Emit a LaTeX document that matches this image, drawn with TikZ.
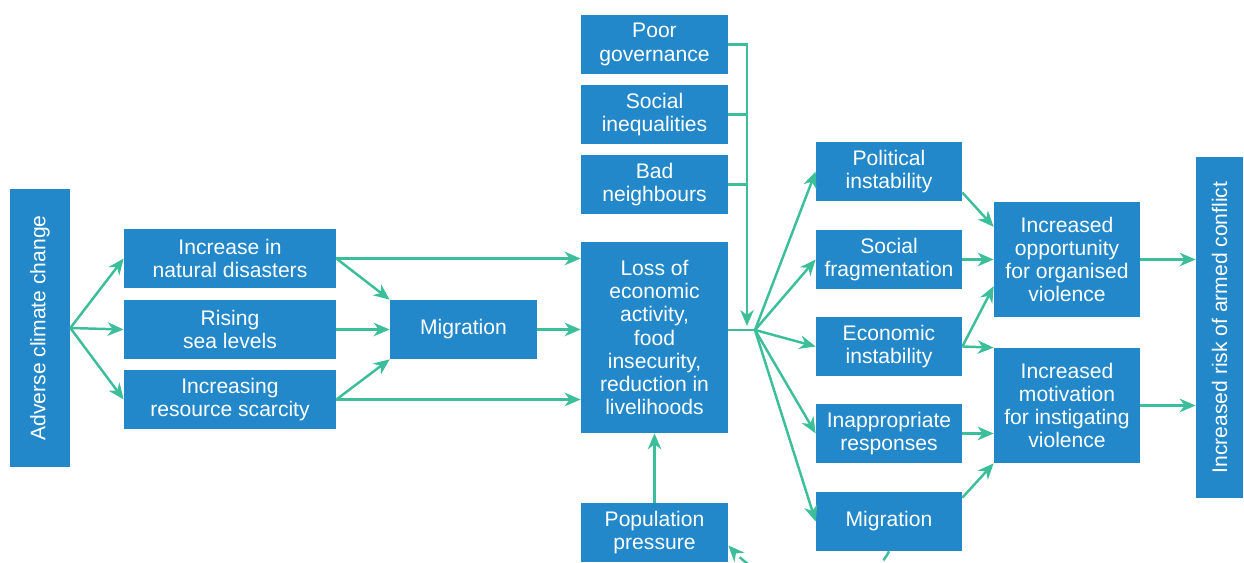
\documentclass[tikz,border=0pt]{standalone}
\usepackage{fontspec}
\setmainfont{Liberation Sans}
\usepackage{graphicx}
\usetikzlibrary{arrows.meta}
\definecolor{boxblue}{RGB}{35,136,202}
\definecolor{linkgreen}{RGB}{60,190,155}

\begin{document}
\begin{tikzpicture}[
  x=0.02cm,y=-0.02cm,
  box/.style={fill=boxblue, text=white, align=center, inner sep=0pt, font=\fontsize{12}{13.2}\selectfont, minimum width=2.94cm, minimum height=1.18cm},
  arrow/.style={-{Stealth[length=0.32cm,width=0.27cm,inset=0.1cm]}, line width=1.4pt, linkgreen},
  link/.style={line width=1.4pt, linkgreen}
]
\useasboundingbox (0,0) rectangle (1244,563);

% climate side
\node[box, minimum width=1.2cm, minimum height=5.56cm] (climate) at (40,328) {\rotatebox{90}{Adverse climate change}};
\node[box, minimum width=4.24cm] (disaster) at (230,258.5) {Increase in\\natural disasters};
\node[box, minimum width=4.24cm] (sea) at (230,329.5) {Rising\\sea levels};
\node[box, minimum width=4.24cm] (scarce) at (230,399.5) {Increasing\\resource scarcity};
\node[box] (migA) at (463.5,329.5) {Migration};

% middle column
\node[box] (gov) at (654.5,44.5) {Poor\\governance};
\node[box] (ineq) at (654.5,114.5) {Social\\inequalities};
\node[box] (neigh) at (654.5,184.5) {Bad\\neighbours};
\node[box, minimum height=3.82cm] (loss) at (654.5,337.5) {Loss of\\economic\\activity,\\food\\insecurity,\\reduction in\\livelihoods};
\node[box] (pop) at (654.5,532.5) {Population\\pressure};

% effects
\node[box, minimum width=2.92cm] (polit) at (889,171.5) {Political\\instability};
\node[box, minimum width=2.92cm] (frag) at (889,259.5) {Social\\fragmentation};
\node[box, minimum width=2.92cm] (econ) at (889,346.5) {Economic\\instability};
\node[box, minimum width=2.92cm] (resp) at (889,433.5) {Inappropriate\\responses};
\node[box, minimum width=2.92cm] (migB) at (889,521.5) {Migration};
\node[box, minimum width=2.92cm, minimum height=2.3cm] (opp) at (1067,259.5) {Increased\\opportunity\\for organised\\violence};
\node[box, minimum width=2.92cm, minimum height=2.3cm] (motiv) at (1067,405.5) {Increased\\motivation\\for instigating\\violence};
\node[box, minimum width=0.94cm, minimum height=6.82cm] (risk) at (1219.5,327.5) {\rotatebox{90}{Increased risk of armed conflict}};

\coordinate (bus) at (747,326);
\coordinate (hub) at (755,330);

\draw[arrow] (climate.east) -- (disaster.west);
\draw[arrow] (climate.east) -- (sea.west);
\draw[arrow] (climate.east) -- (scarce.west);
\draw[arrow] (disaster.east) -- (disaster.east -| loss.west);
\draw[arrow] (disaster.east) -- (migA.north west);
\draw[arrow] (sea.east) -- (migA.west);
\draw[arrow] (scarce.east) -- (migA.south west);
\draw[arrow] (scarce.east) -- (scarce.east -| loss.west);
\draw[arrow] (migA.east) -- (migA.east -| loss.west);
\draw[arrow] (pop.north) -- (loss.south);

\draw[arrow] (gov.east) -| (bus);
\draw[link] (ineq.east) -- (ineq.east -| bus);
\draw[link] (neigh.east) -- (neigh.east -| bus);
\draw[link] (hub -| loss.east) -- (hub);

\draw[arrow] (hub) -- (polit.west);
\draw[arrow] (hub) -- (frag.west);
\draw[arrow] (hub) -- (econ.west);
\draw[arrow] (hub) -- (resp.west);
\draw[arrow] (hub) -- (migB.west);

\draw[arrow] (polit.-16) -- (opp.156);
\draw[arrow] (frag.east) -- (frag.east -| opp.west);
\draw[arrow] (econ.east) -- (opp.200);
\draw[arrow] (econ.east) -- (motiv.north west);
\draw[arrow] (resp.east) -- (resp.east -| motiv.west);
\draw[arrow] (migB.18) -- (motiv.south west);
\draw[arrow] (opp.east) -- (opp.east -| risk.west);
\draw[arrow] (motiv.east) -- (motiv.east -| risk.west);

\begin{scope}
  \clip (0,0) rectangle (1244,563);
  \draw[arrow, dash pattern=on 6pt off 4pt] (migB.south) .. controls (865,600) and (775,595) .. (pop.-10);
\end{scope}
\end{tikzpicture}
\end{document}
